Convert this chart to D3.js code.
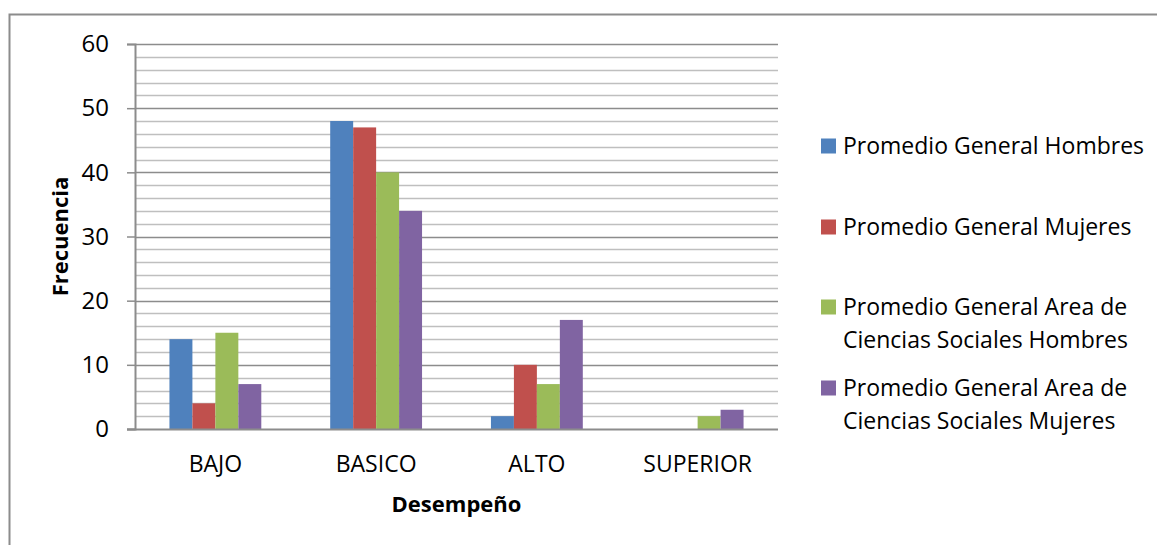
<!DOCTYPE html>
<html>
<head>
<meta charset="utf-8">
<script src="https://cdn.jsdelivr.net/npm/d3@7"></script>
<style>
  html, body { margin: 0; padding: 0; background: #fff; }
  svg { display: block; }
  text { font-family: "Open Sans", "Noto Sans", sans-serif; fill: #000; }
</style>
</head>
<body>
<svg id="chart" width="1157" height="545"></svg>
<script>
const categories = ["BAJO", "BASICO", "ALTO", "SUPERIOR"];
const seriesNames = [
  "Promedio General Hombres",
  "Promedio General Mujeres",
  "Promedio General Area de Ciencias Sociales Hombres",
  "Promedio General Area de Ciencias Sociales Mujeres"
];
const legendLines = [
  ["Promedio General Hombres"],
  ["Promedio General Mujeres"],
  ["Promedio General Area de", "Ciencias Sociales Hombres"],
  ["Promedio General Area de", "Ciencias Sociales Mujeres"]
];
const hombres = [14, 48, 2, 0];
const mujeres = [4, 47, 10, 0];
const socialesHombres = [15, 40, 7, 2];
const socialesMujeres = [7, 34, 17, 3];
const seriesValues = [hombres, mujeres, socialesHombres, socialesMujeres];
const colors = ["#4F81BD", "#C0504D", "#9BBB59", "#8064A2"];
const yTicks = [0, 10, 20, 30, 40, 50, 60];
const yMinorTicks = d3.range(0, 61, 2);
const xTitle = "Desempeño";
const yTitle = "Frecuencia";

const svg = d3.select("#chart");

// outer border
svg.append("rect")
  .attr("x", 9.5).attr("y", 14.5)
  .attr("width", 1200).attr("height", 600)
  .attr("fill", "#fff").attr("stroke", "#8c8c8c").attr("stroke-width", 2);

const pLeft = 135, pRight = 778, pTop = 44, pBottom = 429;

const y = d3.scaleLinear().domain([0, 60]).range([pBottom, pTop]);
const x0 = d3.scaleBand().domain(categories).range([pLeft, pRight]).paddingInner(0).paddingOuter(0);
const bw = x0.bandwidth();
const x1 = d3.scaleBand().domain(d3.range(seriesNames.length))
  .range([bw * 0.2143, bw * 0.7857]).padding(0);

// minor gridlines
svg.append("g").selectAll("line").data(yMinorTicks.filter(d => d % 10 !== 0))
  .join("line")
  .attr("x1", pLeft).attr("x2", pRight)
  .attr("y1", d => Math.round(y(d)) + 0.5).attr("y2", d => Math.round(y(d)) + 0.5)
  .attr("stroke", "#bfbfbf").attr("stroke-width", 1.5);

// major gridlines
svg.append("g").selectAll("line").data(yTicks.filter(d => d !== 0))
  .join("line")
  .attr("x1", pLeft).attr("x2", pRight)
  .attr("y1", d => Math.round(y(d)) + 0.5).attr("y2", d => Math.round(y(d)) + 0.5)
  .attr("stroke", "#8c8c8c").attr("stroke-width", 1.5);

// bars
const groups = svg.append("g").selectAll("g").data(categories).join("g")
  .attr("transform", c => `translate(${x0(c)},0)`);
groups.selectAll("rect")
  .data((c, ci) => seriesValues.map((vals, si) => ({ si, v: vals[ci] })))
  .join("rect")
  .attr("x", d => x1(d.si))
  .attr("width", x1.bandwidth())
  .attr("y", d => y(d.v))
  .attr("height", d => y(0) - y(d.v))
  .attr("fill", d => colors[d.si]);

// y axis
const yAxis = d3.axisLeft(y).tickValues(yTicks).tickSize(8).tickPadding(18).tickFormat(d3.format("d"));
const gy = svg.append("g").attr("transform", `translate(${pLeft},0)`).call(yAxis);
gy.select(".domain").attr("stroke", "#8c8c8c").attr("stroke-width", 2);
gy.selectAll(".tick line").attr("stroke", "#8c8c8c").attr("stroke-width", 1.5);
gy.selectAll(".tick text").attr("font-family", "Open Sans").attr("font-size", 24).attr("fill", "#000");

// x axis
const xAxis = d3.axisBottom(x0).tickSize(0).tickPadding(27);
const gx = svg.append("g").attr("transform", `translate(0,${pBottom})`).call(xAxis);
gx.select(".domain").remove();
gx.append("line").attr("x1", pLeft - 8).attr("x2", pRight).attr("y1", 0.5).attr("y2", 0.5)
  .attr("stroke", "#8c8c8c").attr("stroke-width", 2);
gx.selectAll(".tick text").attr("font-family", "Open Sans").attr("font-size", 23).attr("fill", "#000");

// axis titles
svg.append("text").attr("x", (pLeft + pRight) / 2).attr("y", 512)
  .attr("text-anchor", "middle").attr("font-weight", "bold").attr("font-size", 22)
  .text(xTitle);
svg.append("text").attr("transform", `translate(68,${(pTop + pBottom) / 2}) rotate(-90)`)
  .attr("text-anchor", "middle").attr("font-weight", "bold").attr("font-size", 22)
  .text(yTitle);

// legend
const legendY = [146, 227, 307, 388];
const lg = svg.append("g").selectAll("g").data(legendLines).join("g")
  .attr("transform", (d, i) => `translate(821,${legendY[i]})`);
lg.append("rect").attr("x", 0).attr("y", -7.5).attr("width", 15).attr("height", 15)
  .attr("fill", (d, i) => colors[i]);
lg.selectAll("text").data(d => d).join("text")
  .attr("x", 22).attr("y", (d, j) => j * 33)
  .attr("dy", "0.35em").attr("font-size", 23)
  .text(d => d);
</script>
</body>
</html>
